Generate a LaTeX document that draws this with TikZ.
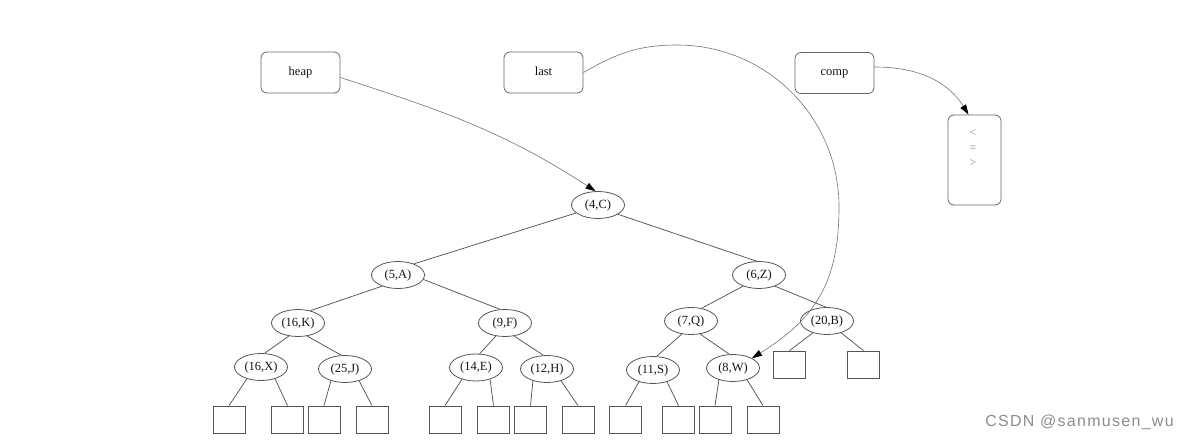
\documentclass[tikz,border=0pt]{standalone}
\usepackage{fontspec}
\setmainfont{Liberation Serif}
\newfontfamily\wmfont{Liberation Sans}
\usetikzlibrary{arrows.meta,shapes.geometric}
\definecolor{edgecol}{gray}{0.33}
\definecolor{boxcol}{gray}{0.4}
\definecolor{ptrcol}{gray}{0.45}
\definecolor{txtcol}{gray}{0.08}
\definecolor{wmcol}{gray}{0.55}
\begin{document}
\begin{tikzpicture}[x=1pt,y=1pt,
  every node/.style={font=\fontsize{12.5}{15}\selectfont, text=txtcol},
  tnode/.style={ellipse, draw=edgecol, line width=0.8pt, minimum width=53pt, minimum height=27pt, inner sep=0pt, text height=8.5pt, text depth=2.5pt},
  leafbox/.style={rectangle, draw=edgecol, line width=0.8pt, minimum width=32pt, minimum height=27pt, inner sep=0pt},
  ptrbox/.style={rectangle, rounded corners=6pt, draw=boxcol, line width=0.8pt, minimum width=79pt, minimum height=41pt, inner sep=0pt, text height=8pt, text depth=2pt},
  tedge/.style={draw=edgecol, line width=0.75pt},
  ptr/.style={draw=ptrcol, line width=0.6pt, -{Triangle[length=10pt,width=6.5pt,color=black]}}
]
\useasboundingbox (0,0) rectangle (1192,440);

% pointer boxes
\node[ptrbox] (heap) at (300.5,367.5) {heap\hspace{10pt}};
\node[ptrbox] (last) at (543.5,367.5) {last\hspace{10pt}};
\node[ptrbox] (comp) at (834.5,367) {comp\hspace{10pt}};
\node[rectangle, rounded corners=6pt, draw=boxcol, line width=0.8pt, minimum width=53pt, minimum height=90pt, inner sep=0pt] (cmp) at (974.5,280) {};
\node[align=center, text=wmcol, font=\fontsize{12}{15}\selectfont] (cmptext) at (973,292) {<\\=\\>};

% tree nodes
\node[tnode] (c4) at (598,235) {(4,C)};
\node[tnode] (a5) at (398,165) {(5,A)};
\node[tnode] (z6) at (759,165) {(6,Z)};
\node[tnode] (k16) at (298,117) {(16,K)};
\node[tnode] (f9) at (505,117) {(9,F)};
\node[tnode] (q7) at (691,119) {(7,Q)};
\node[tnode] (b20) at (827,119) {(20,B)};
\node[tnode] (x16) at (261,73) {(16,X)};
\node[tnode] (j25) at (345,71) {(25,J)};
\node[tnode] (e14) at (476,72.5) {(14,E)};
\node[tnode] (h12) at (547,71) {(12,H)};
\node[tnode] (s11) at (653,70) {(11,S)};
\node[tnode] (w8) at (733,72) {(8,W)};

% leaf boxes
\node[leafbox] (l1) at (229,20.5) {};
\node[leafbox] (l2) at (287.5,20.5) {};
\node[leafbox] (l3) at (324,20.5) {};
\node[leafbox] (l4) at (372,20.5) {};
\node[leafbox] (l5) at (445,20.5) {};
\node[leafbox] (l6) at (493.5,20.5) {};
\node[leafbox] (l7) at (530.5,20.5) {};
\node[leafbox] (l8) at (578,20.5) {};
\node[leafbox] (l9) at (625.5,20.5) {};
\node[leafbox] (l10) at (678.5,20.5) {};
\node[leafbox] (l11) at (715,20.5) {};
\node[leafbox] (l12) at (763,20.5) {};
\node[leafbox] (l13) at (789.5,75.5) {};
\node[leafbox] (l14) at (863.5,75.5) {};

% tree edges
\path[tedge] (c4.200) -- (a5.35);
\path[tedge] (c4.-25) -- (z6.100);
\path[tedge] (a5.215) -- (k16.45);
\path[tedge] (a5.-10) -- (f9.110);
\path[tedge] (z6.215) -- (q7.50);
\path[tedge] (z6.-35) -- (b20.95);
\path[tedge] (k16.235) -- (x16.75);
\path[tedge] (k16.-55) -- (j25.105);
\path[tedge] (f9.235) -- (e14.75);
\path[tedge] (f9.-55) -- (h12.105);
\path[tedge] (q7.235) -- (s11.75);
\path[tedge] (q7.-55) -- (w8.105);
\path[tedge] (x16.220) -- (l1.north);
\path[tedge] (x16.320) -- (l2.north);
\path[tedge] (j25.220) -- (l3.north);
\path[tedge] (j25.320) -- (l4.north);
\path[tedge] (e14.220) -- (l5.north);
\path[tedge] (e14.320) -- (l6.north);
\path[tedge] (h12.220) -- (l7.north);
\path[tedge] (h12.320) -- (l8.north);
\path[tedge] (s11.220) -- (l9.north);
\path[tedge] (s11.320) -- (l10.north);
\path[tedge] (w8.220) -- (l11.north);
\path[tedge] (w8.320) -- (l12.north);
\path[tedge] (b20.220) -- (l13.north);
\path[tedge] (b20.320) -- (l14.north);

% pointer arrows
\coordinate (ltop) at (677,395);
\coordinate (lright) at (839,233);
\path[ptr] ([yshift=-5pt]heap.east) to[out=-18,in=147] (c4.100);
\path[ptr] (last.east) to[out=30,in=180] (ltop) to[out=0,in=90] (lright) to[out=-90,in=32,looseness=1.1] (w8.north east);
\path[ptr] ([yshift=6pt]comp.east) to[out=0,in=122] ([xshift=-6pt]cmp.north);

% watermark
\node[font=\wmfont\fontsize{16}{18}\selectfont\addfontfeature{LetterSpace=8}, text=wmcol] (wm) at (1079.5,18) {CSDN @sanmusen\_wu};
\end{tikzpicture}
\end{document}
